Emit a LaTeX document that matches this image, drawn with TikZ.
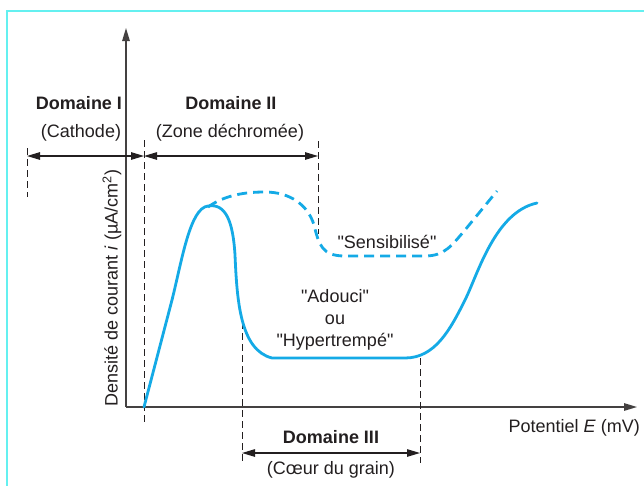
\documentclass[tikz,border=0pt]{standalone}
\usepackage{fontspec}
\setmainfont{Liberation Sans}[Ligatures=TeXOff]
\usetikzlibrary{arrows.meta}
\definecolor{curveblue}{RGB}{20,170,230}
\definecolor{framecyan}{RGB}{100,240,240}
\definecolor{ink}{RGB}{35,31,32}
\begin{document}
\begin{tikzpicture}[x=1pt,y=-1pt,
  lbl/.style={font=\fontsize{18}{22}\selectfont, text=ink, inner sep=0pt},
  bold/.style={lbl, font=\fontsize{18}{22}\selectfont\bfseries},
  axisline/.style={draw=ink!85, line width=1.3pt},
  guide/.style={draw=ink, line width=1pt, dash pattern=on 7pt off 4pt},
  dimarrow/.style={draw=ink, line width=1.1pt, {Triangle[length=13pt,width=7.5pt]}-{Triangle[length=13pt,width=7.5pt]}},
  curve/.style={draw=curveblue, line width=2.8pt, line cap=round, line join=round},
  dcurve/.style={curve, line cap=butt, dash pattern=on 10pt off 6pt}]
\useasboundingbox (0,0) rectangle (644,485);
\fill[white] (0,0) rectangle (644,485);
\draw[framecyan, line width=2pt] (7,486) -- (7,11) -- (645,11);

% axes
\coordinate (O) at (126,407);
\coordinate (ytop) at (126,28);
\coordinate (xend) at (637,407);
\draw[axisline, -{Triangle[length=13pt,width=7.5pt]}] (O) -- (ytop);
\draw[axisline, -{Triangle[length=13pt,width=7.5pt]}] (O) -- (xend);

% guide lines
\coordinate (g1t) at (27,148);  \coordinate (g1b) at (27,197);
\coordinate (g2t) at (144,140); \coordinate (g2b) at (144,425);
\coordinate (g3t) at (318,141); \coordinate (g3b) at (318,234);
\coordinate (g4t) at (242,322); \coordinate (g4b) at (242,463);
\coordinate (g5t) at (420,358); \coordinate (g5b) at (420,463);
\draw[guide] (g1t) -- (g1b);
\draw[guide] (g2t) -- (g2b);
\draw[guide] (g3t) -- (g3b);
\draw[guide] (g4t) -- (g4b);
\draw[guide] (g5t) -- (g5b);

% dimension arrows
\coordinate (a1) at (27,156);
\coordinate (a2) at (144,156);
\coordinate (a3) at (318,156);
\coordinate (b1) at (242,453);
\coordinate (b2) at (420,453);
\draw[dimarrow] (a1) -- (a2);
\draw[dimarrow] (a2) -- (a3);
\draw[dimarrow] (b1) -- (b2);

% curves
\draw[dcurve] (208,207) .. controls (225,195) and (245,192) .. (265,192)
  .. controls (290,192) and (308,205) .. (314,225)
  .. controls (319,245) and (322,256) .. (345,256) -- (425,256)
  .. controls (445,256) and (452,245) .. (465,230) -- (497,191);
\draw[curve] (144,407) -- (172,300) .. controls (182,260) and (190,208) .. (208,206)
  .. controls (226,203) and (233,222) .. (235,255)
  .. controls (237,300) and (240,350) .. (272,358) -- (405,358)
  .. controls (435,358) and (450,330) .. (465,300)
  .. controls (478,274) and (495,212) .. (537,203);

% labels
\node[bold] (d1) at (79,103) {Domaine I};
\node[bold] (d2) at (231,103) {Domaine II};
\node[lbl] (c1) at (81,133) {(Cathode)};
\node[lbl] (c2) at (230,133) {(Zone déchromée)};
\node[bold] (d3) at (331,437) {Domaine III};
\node[lbl] (c3) at (331,470) {(Cœur du grain)};
\node[lbl, anchor=east] (xl) at (640,428) {Potentiel \textit{E} (mV)};
\node[lbl, rotate=90] (yl) at (112,288) {Densité de courant \textit{i} (µA/cm\textsuperscript{2})};
\node[lbl] (sens) at (387,242) {"Sensibilisé"};
\node[lbl, align=center] (ado) at (335,320) {"Adouci"\\ou\\"Hypertrempé"};
\end{tikzpicture}
\end{document}
